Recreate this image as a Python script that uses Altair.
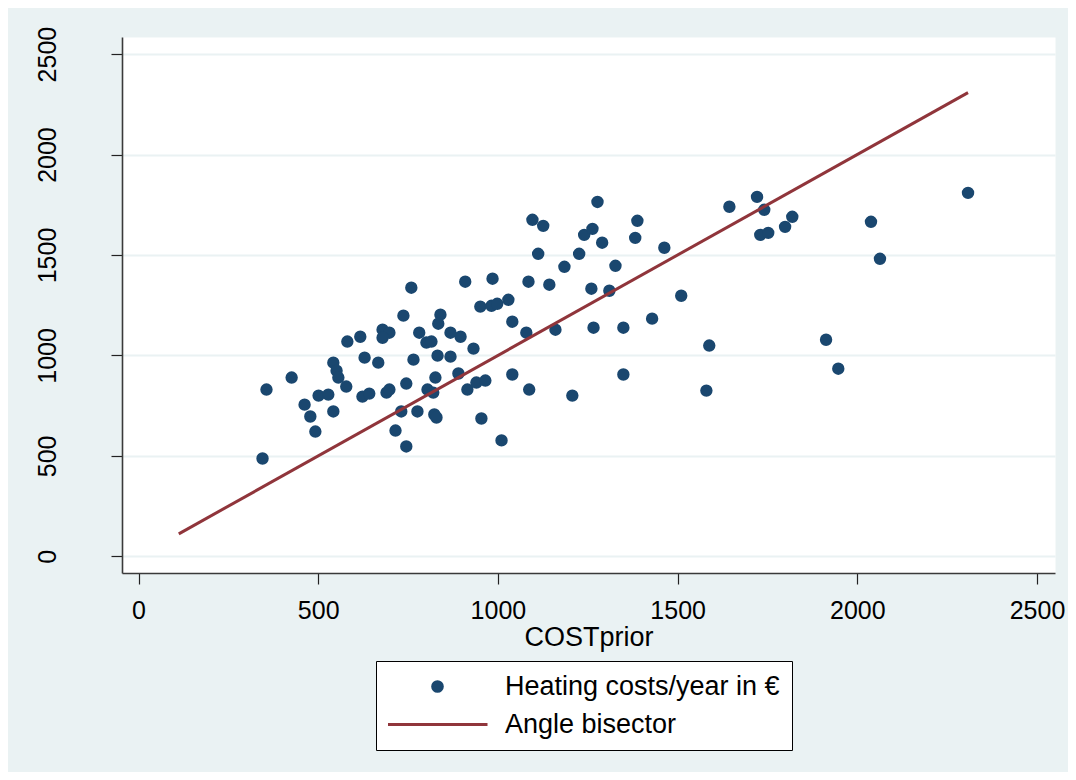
import altair as alt
import pandas as pd

# ---- data ----
cost_prior = [345, 356, 426, 462, 478, 492, 501, 528, 542, 551, 556, 542, 578, 581, 617,
              623, 642, 629, 667, 679, 698, 679, 690, 698, 715, 731, 737, 745, 745, 759,
              765, 776, 781, 801, 815, 804, 820, 823, 829, 826, 832, 868, 840, 834, 868,
              896, 890, 909, 915, 940, 965, 932, 951, 985, 982, 998, 1029, 1040, 1040, 954,
              1010, 1079, 1085, 1087, 1096, 1126, 1112, 1143, 1160, 1185, 1207, 1226, 1240, 1263, 1277,
              1290, 1260, 1310, 1266, 1327, 1349, 1349, 1382, 1388, 1429, 1463, 1510, 1580, 1588, 1644,
              1721, 1741, 1730, 1752, 1799, 1819, 1913, 1947, 2038, 2063, 2308]
heating_cost = [487, 830, 890, 755, 696, 621, 800, 805, 964, 924, 890, 721, 845, 1069, 1093,
                795, 810, 989, 964, 1128, 1113, 1088, 815, 830, 626, 721, 1198, 860, 547, 1337,
                979, 721, 1113, 1064, 1069, 830, 815, 706, 691, 890, 999, 994, 1203, 1158, 1113,
                1093, 910, 1367, 830, 865, 875, 1034, 1243, 1382, 1247, 1257, 1277, 1168, 905, 686,
                577, 1113, 1367, 830, 1675, 1645, 1506, 1352, 1128, 1441, 800, 1506, 1600, 1630, 1764,
                1561, 1332, 1322, 1138, 1446, 1138, 905, 1585, 1670, 1183, 1536, 1297, 825, 1049, 1740,
                1789, 1725, 1600, 1610, 1640, 1690, 1078, 934, 1665, 1481, 1809]
bisector_x = [112, 2308]
bisector_y = [112, 2308]
series_names = ["Heating costs/year in €", "Angle bisector"]
series_colors = ["#1A476F", "#90353B"]
x_ticks = [0, 500, 1000, 1500, 2000, 2500]
y_ticks = [0, 500, 1000, 1500, 2000, 2500]

pts = pd.DataFrame({"x": cost_prior, "y": heating_cost, "series": series_names[0]})
bis = pd.DataFrame({"x": bisector_x, "y": bisector_y, "series": series_names[1]})

FONT = "Liberation Sans"
is_line = "datum.value == 'Angle bisector'"

xs = alt.Scale(domain=[-46, 2550], nice=False, zero=False)
ys = alt.Scale(domain=[-83, 2585], nice=False, zero=False)

x_axis = alt.Axis(values=x_ticks, format="d", title="COSTprior", grid=False, tickSize=11,
                  tickColor="#222222", tickWidth=1.2, domainColor="#3a3a3a", domainWidth=1.6,
                  labelFont=FONT, labelFontSize=25, labelColor="black", labelPadding=14,
                  labelFlush=False, titleFont=FONT, titleFontSize=27, titleFontWeight="normal",
                  titleColor="black", titlePadding=1)
y_axis = alt.Axis(values=y_ticks, format="d", title=None, grid=True, gridColor="#EAF2F3",
                  gridWidth=2, tickSize=11, tickColor="#222222", tickWidth=1.2,
                  domainColor="#3a3a3a", domainWidth=1.6, labelFont=FONT, labelFontSize=25,
                  labelColor="black", labelAngle=270, labelAlign="center",
                  labelBaseline="bottom", labelPadding=51, labelFlush=False)

legend = alt.Legend(
    title=None, orient="none", legendX=254, legendY=624, direction="vertical",
    fillColor="white", strokeColor="black", padding=12,
    labelFont=FONT, labelFontSize=27, labelColor="black", labelOffset=54, labelLimit=500,
    symbolOffset=36, rowPadding=10, clipHeight=27,
    symbolType={"expr": f"{is_line} ? 'stroke' : 'circle'"},
    symbolSize={"expr": f"{is_line} ? 10000 : 160"},
    symbolStrokeWidth={"expr": f"{is_line} ? 3 : 0"},
    symbolStrokeColor={"expr": f"{is_line} ? '#90353B' : '#1A476F'"},
)

color = alt.Color("series:N", scale=alt.Scale(domain=series_names, range=series_colors),
                  legend=legend)

points = alt.Chart(pts).mark_circle(size=154, opacity=1).encode(
    x=alt.X("x:Q", scale=xs, axis=x_axis),
    y=alt.Y("y:Q", scale=ys, axis=y_axis),
    color=color,
)

line = alt.Chart(bis).mark_line(strokeWidth=3).encode(
    x=alt.X("x:Q", scale=xs),
    y=alt.Y("y:Q", scale=ys),
    color=color,
)

chart = alt.layer(points, line).properties(
    width=933, height=536,
    autosize=alt.AutoSizeParams(type="none"),
    padding={"left": 114, "top": 29, "right": 13, "bottom": 199},
    background="#EAF2F3",
).configure_view(fill="white", stroke="transparent")

chart.save("out.html", embed_options={"renderer": "svg", "actions": False})
